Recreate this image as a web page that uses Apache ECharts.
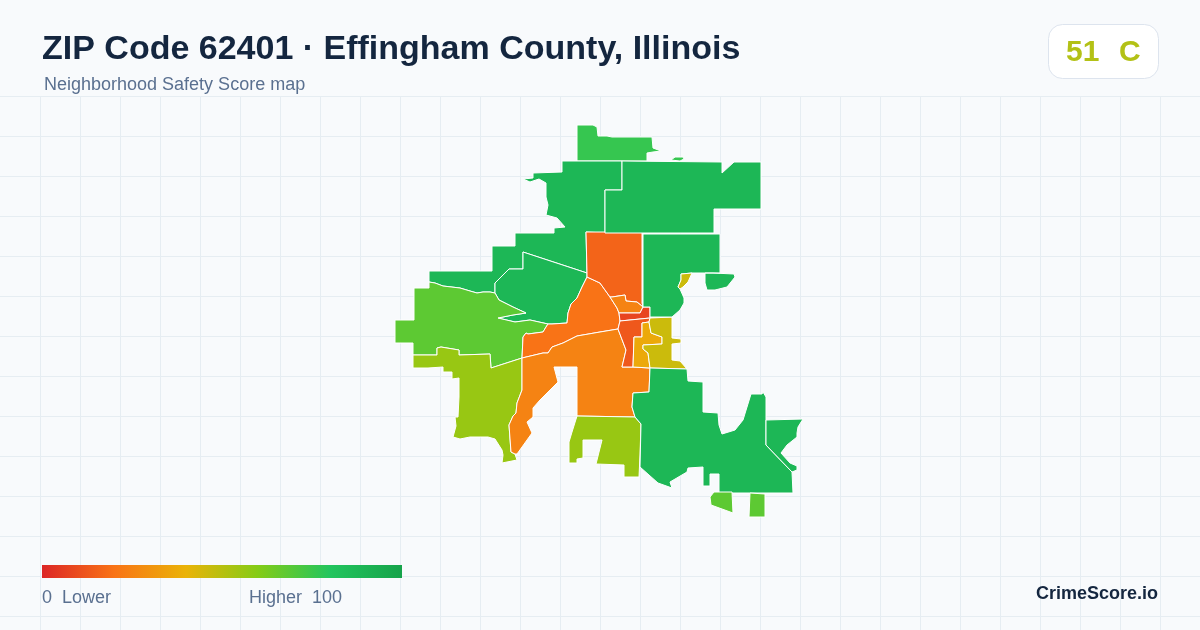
<!DOCTYPE html>
<html>
<head>
<meta charset="utf-8">
<title>ZIP Code 62401</title>
<style>
  html, body { margin: 0; padding: 0; background: #f8fafc; }
  #main { width: 1200px; height: 630px; }
</style>
<script src="https://cdn.jsdelivr.net/npm/echarts@6/dist/echarts.min.js"></script>
</head>
<body>
<div id="main"></div>
<script>
// neighborhood scores
var regionNames = ["north", "northwest", "westInner", "west", "southwest", "centerWest", "centerSouth",
  "northCenter", "downtownNorth", "downtownTop", "downtownSouth", "eastAmber", "eastOlive", "south",
  "southeast", "farEast", "northeast", "eastMid", "eastSliver", "southOuter"];
var regionScores = [76, 88, 88, 68, 56, 20, 25, 16, 25, 8, 13, 37, 46, 56, 88, 88, 88, 88, 46, 68];

// outlines, traced in map units (one list of rings per region)
var north = [[[577,125],[593,125],[597,127],[598,136],[607,136],[612,137],[652,137],[653,148],[661,151],[653,152],[647,153],[647,161],[577,161]],
  [[671,160],[675,157],[683,157],[684,159],[680,161]]];
var northwest = [[[562,161],[622,161],[622,190],[605,190],[605,233],[586,232],[587,273],[523,252],[523,269],[509,269],[495,283],[495,293],[490,292],[483,292],[477,293],[470,291],[460,288],[443,286],[435,283],[429,282],[429,271],[492,271],[492,246],[515,246],[515,233],[554,233],[554,228],[565,227],[557,218],[546,215],[548,205],[546,197],[546,183],[539,179],[530,182],[523,179],[533,178],[533,173],[562,172]]];
var westInner = [[[523,252],[587,273],[587,277],[582,287],[577,298],[571,304],[568,313],[567,323],[552,324],[548,324],[530,320],[515,322],[498,318],[513,315],[526,313],[513,307],[499,300],[495,293],[495,283],[509,269],[523,269]]];
var west = [[[414,288],[429,288],[429,282],[435,283],[443,286],[460,288],[470,291],[477,293],[483,292],[490,292],[495,293],[499,300],[513,307],[526,313],[513,315],[498,318],[515,322],[530,320],[548,324],[546,327],[543,332],[528,334],[526,333],[523,337],[522,358],[491,368],[490,354],[459,355],[459,350],[441,347],[437,348],[437,355],[413,355],[413,343],[395,343],[395,320],[414,320]]];
var southwest = [[[413,355],[437,355],[437,348],[441,347],[459,350],[459,355],[490,354],[491,368],[522,358],[522,390],[517,403],[516,413],[513,416],[509,425],[511,452],[515,454],[517,460],[502,463],[503,455],[502,450],[495,439],[488,437],[470,437],[460,439],[453,437],[456,426],[455,417],[458,417],[459,397],[459,378],[452,379],[452,372],[443,372],[443,367],[428,368],[413,368]]];
var centerWest = [[[522,358],[523,337],[526,333],[528,334],[543,332],[546,327],[548,324],[552,324],[567,323],[568,313],[571,304],[577,298],[582,287],[587,277],[600,283],[610,297],[617,308],[619,313],[620,321],[618,329],[600,332],[577,336],[563,343],[552,347],[548,353],[543,353]]];
var centerSouth = [[[522,358],[543,353],[548,353],[552,347],[563,343],[577,336],[600,332],[618,329],[626,350],[622,367],[633,367],[650,368],[649,392],[633,393],[632,407],[635,417],[577,416],[577,367],[554,367],[558,382],[550,390],[540,400],[533,408],[533,417],[527,422],[532,433],[522,447],[517,454],[515,454],[511,452],[509,425],[513,416],[516,413],[517,403],[522,390]]];
var northCenter = [[[586,232],[642,232],[642,303],[643,307],[637,302],[626,301],[625,295],[612,297],[610,297],[600,283],[587,277],[587,273]]];
var downtownNorth = [[[610,297],[612,297],[625,295],[626,301],[637,302],[643,307],[640,313],[619,313],[617,308]]];
var downtownTop = [[[643,307],[650,307],[650,318],[620,321],[619,313],[640,313]]];
var downtownSouth = [[[620,321],[650,318],[649,322],[642,323],[642,337],[634,337],[633,367],[622,367],[626,350],[618,329]]];
var eastAmber = [[[642,323],[649,322],[651,333],[662,337],[662,344],[643,345],[643,349],[648,353],[650,368],[633,367],[634,337],[642,337]]];
var eastOlive = [[[650,318],[672,317],[672,338],[681,339],[681,343],[672,344],[672,360],[680,361],[687,369],[650,368],[648,353],[643,349],[643,345],[662,344],[662,337],[651,333],[649,322]]];
var south = [[[577,416],[635,417],[641,424],[640,455],[639,477],[624,477],[624,465],[596,464],[602,440],[583,440],[583,458],[577,459],[577,463],[569,463],[569,442],[572,432]]];
var southeast = [[[650,368],[687,369],[688,381],[703,382],[703,412],[718,413],[719,425],[722,434],[735,430],[743,420],[751,394],[762,394],[763,392],[766,397],[766,445],[792,472],[793,493],[719,493],[719,474],[710,474],[710,486],[703,486],[703,467],[688,468],[687,472],[670,482],[672,488],[658,483],[640,467],[641,424],[635,417],[632,407],[633,393],[649,392]]];
var farEast = [[[766,420],[803,419],[798,427],[797,433],[797,437],[787,445],[781,453],[790,463],[797,466],[797,470],[792,472],[766,445]]];
var northeast = [[[622,161],[722,162],[722,173],[734,162],[761,162],[761,209],[714,209],[714,233],[605,233],[605,190],[622,190]]];
var eastMid = [[[643,234],[720,234],[720,273],[692,273],[681,274],[681,280],[678,287],[680,289],[684,298],[684,303],[680,310],[672,317],[650,317],[650,307],[643,307]],
  [[705,273],[713,273],[734,274],[735,277],[727,287],[715,290],[707,290],[705,283]]];
var eastSliver = [[[681,274],[692,273],[688,282],[683,287],[680,289],[678,287],[681,280]]];
var southOuter = [[[714,492],[732,492],[733,513],[711,505],[710,497]], [[750,493],[765,494],[765,517],[749,517]]];

var regionOutlines = [north, northwest, westInner, west, southwest, centerWest, centerSouth, northCenter,
  downtownNorth, downtownTop, downtownSouth, eastAmber, eastOlive, south, southeast, farEast, northeast,
  eastMid, eastSliver, southOuter];

var scaleColors = ["#dc2626", "#f97316", "#eab308", "#84cc16", "#22c55e", "#16a34a"];

var features = [];
var seriesData = [];
for (var i = 0; i < regionNames.length; i++) {
  var polys = [];
  for (var j = 0; j < regionOutlines[i].length; j++) {
    polys.push([regionOutlines[i][j].concat([regionOutlines[i][j][0]])]);
  }
  features.push({
    type: "Feature",
    properties: { name: regionNames[i] },
    geometry: { type: "MultiPolygon", coordinates: polys }
  });
  seriesData.push({ name: regionNames[i], value: regionScores[i] });
}
echarts.registerMap("zip62401", { type: "FeatureCollection", features: features });

// background grid, every 40px below the header
var graphics = [];
for (var x = 40; x < 1200; x += 40) {
  graphics.push({ type: "line", z: 0, silent: true, shape: { x1: x + 0.5, y1: 96, x2: x + 0.5, y2: 630 },
    style: { stroke: "#e6edf2", lineWidth: 1 } });
}
for (var y = 96; y < 630; y += 40) {
  graphics.push({ type: "line", z: 0, silent: true, shape: { x1: 0, y1: y + 0.5, x2: 1200, y2: y + 0.5 },
    style: { stroke: "#e6edf2", lineWidth: 1 } });
}

function addText(str, x, y, font, color, align) {
  graphics.push({ type: "text", z: 10, silent: true, x: x, y: y,
    style: { text: str, font: font, fill: color, align: align || "left", verticalAlign: "middle" } });
}

var sans = '"Liberation Sans", Arial, sans-serif';
addText("ZIP Code 62401 · Effingham County, Illinois", 42, 50, "bold 34px " + sans, "#14263f");
addText("Neighborhood Safety Score map", 44, 85, "18px " + sans, "#5a7090");

graphics.push({ type: "rect", z: 9, silent: true, shape: { x: 1048.5, y: 24.5, width: 110, height: 54, r: 14 },
  style: { fill: "#ffffff", stroke: "#dde4ee", lineWidth: 1 } });
addText("51", 1066, 53, "bold 30px " + sans, "#b3c116");
addText("C", 1119, 53, "bold 30px " + sans, "#b3c116");

// legend bar, same stops as the map scale
var barStops = [];
for (var s = 0; s < scaleColors.length; s++) {
  barStops.push({ offset: s / (scaleColors.length - 1), color: scaleColors[s] });
}
graphics.push({ type: "rect", z: 9, silent: true, shape: { x: 42, y: 565, width: 360, height: 13 },
  style: { fill: { type: "linear", x: 0, y: 0, x2: 1, y2: 0, colorStops: barStops } } });

addText("0  Lower", 42, 598, "18px " + sans, "#5a7090");
addText("Higher  100", 342, 598, "18px " + sans, "#5a7090", "right");
addText("CrimeScore.io", 1158, 594, "bold 18px " + sans, "#14263f", "right");

var myChart = echarts.init(document.getElementById("main"), null, { renderer: "canvas" });

var option = {
  backgroundColor: "#f8fafc",
  animation: false,
  graphic: graphics,
  visualMap: {
    type: "continuous",
    show: false,
    min: 0,
    max: 100,
    seriesIndex: 0,
    inRange: { color: scaleColors }
  },
  series: [{
    type: "map",
    map: "zip62401",
    silent: true,
    roam: false,
    left: 0,
    top: 0,
    width: 1200,
    height: 630,
    boundingCoords: [[0, 0], [1200, 630]],
    projection: {
      project: function (p) { return p; },
      unproject: function (p) { return p; }
    },
    label: { show: false },
    itemStyle: { borderColor: "#ffffff", borderWidth: 1 },
    data: seriesData
  }]
};

myChart.setOption(option);
</script>
</body>
</html>
